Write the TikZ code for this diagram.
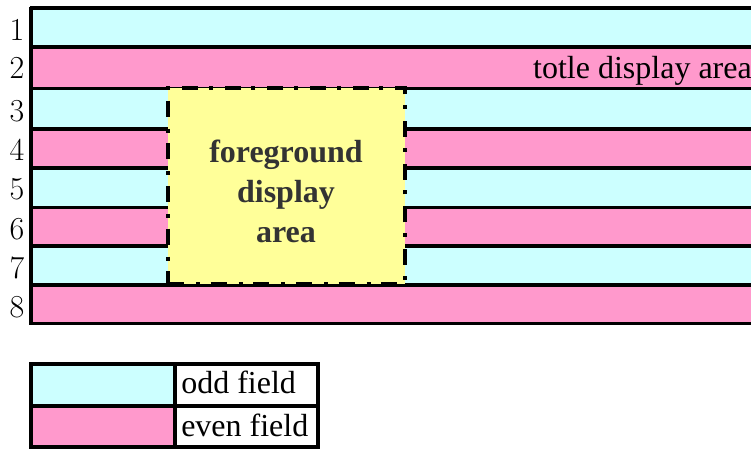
\documentclass[tikz,border=0pt]{standalone}
\usepackage{fontspec}
\newfontfamily\timesfont{Liberation Serif}
\usetikzlibrary{positioning}
\definecolor{oddcyan}{HTML}{CCFFFF}
\definecolor{evenpink}{HTML}{FF99CC}
\definecolor{fgyellow}{HTML}{FFFF99}
\definecolor{fggray}{HTML}{333333}

\begin{document}
\begin{tikzpicture}[x=0.75pt, y=-0.75pt,
    rowline/.style={line width=2.4pt},
    fgbox/.style={rectangle, fill=fgyellow, line width=3.4pt, dash pattern=on 12pt off 9pt on 3pt off 8pt,
                  minimum width=177.75pt, minimum height=147pt, inner sep=0pt},
    rownum/.style={anchor=base, font=\fontsize{24}{24}\selectfont, inner sep=0pt},
    tnrtext/.style={font=\timesfont\fontsize{24}{28}\selectfont, inner sep=0pt},
]
\useasboundingbox (0,0) rectangle (751,449);

% Eight field rows
\foreach \n/\ytop/\ybot/\col in {1/8/47/oddcyan, 2/47/88.5/evenpink, 3/88.5/129/oddcyan, 4/129/168/evenpink,
                                 5/168/207.5/oddcyan, 6/207.5/246/evenpink, 7/246/285/oddcyan, 8/285/323.5/evenpink}
    \fill[\col] (31,\ytop) rectangle (760,\ybot);
\foreach \y in {8,47,88.5,129,168,207.5,246,285,323.5}
    \draw[rowline] (29.9,\y) -- (760,\y);
\draw[rowline] (31,6.9) -- (31,324.6);

% Row numbers
\foreach \n/\yb in {1/41, 2/79, 3/121.5, 4/161, 5/200, 6/239.5, 7/278.5, 8/317.5}
    \node[rownum] (num\n) at (17,\yb) {\n};

\node[tnrtext, anchor=base east] (totle) at (752,79) {totle display area};

% Foreground area over rows 3-7
\node[fgbox, draw] (fgarea) at (286.5,186) {};
\node[tnrtext, font=\timesfont\bfseries\fontsize{24}{30}\selectfont, text=fggray, align=center]
    (fgtext) at (286,191) {foreground\\display\\area};

% Legend
\fill[oddcyan] (31,364) rectangle (175,406);
\fill[evenpink] (31,406) rectangle (175,447);
\draw[rowline] (31,364) rectangle (318,447);
\draw[rowline] (31,406) -- (318,406);
\draw[rowline] (175,364) -- (175,447);
\node[tnrtext, anchor=base west] (oddtxt) at (181,394) {odd field};
\node[tnrtext, anchor=base west] (eventxt) at (181,437) {even field};

\end{tikzpicture}
\end{document}
